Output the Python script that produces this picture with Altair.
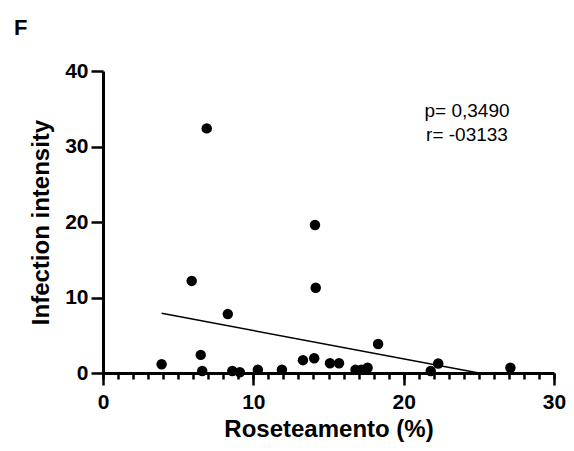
import altair as alt
import pandas as pd

# Scatter data
roset = [3.9, 5.9, 6.5, 6.6, 6.9, 8.3, 8.6, 9.1, 10.3, 11.9, 13.3, 14.05, 14.1, 14.15,
         15.1, 15.7, 16.8, 17.2, 17.6, 18.3, 21.8, 22.3, 27.1]
intens = [1.15, 12.2, 2.4, 0.26, 32.4, 7.8, 0.26, 0.09, 0.44, 0.44, 1.7, 1.95, 19.6, 11.3,
          1.3, 1.3, 0.44, 0.44, 0.7, 3.85, 0.26, 1.25, 0.7]

# Regression line end points (clipped at y = 0)
fit_x = [3.9, 25.0]
fit_y = [7.9, 0.0]

x_major = [0, 10, 20, 30]
x_minor = list(range(0, 31))
y_major = [0, 10, 20, 30, 40]

stats_p = "p= 0,3490"
stats_r = "r= -03133"
panel_label = "F"

pts = pd.DataFrame({"x": roset, "y": intens})
fit = pd.DataFrame({"x": fit_x, "y": fit_y})

FONT = "Liberation Sans"

x_scale = alt.Scale(domain=[0, 30], nice=False, zero=False)
y_scale = alt.Scale(domain=[0, 40], nice=False, zero=False)

x_axis = alt.Axis(
    orient="bottom", values=x_major, ticks=True,
    tickSize=12, tickWidth=2.5, domainWidth=3, tickColor="black", domainColor="black",
    tickOpacity=1,
    labelFont=FONT, labelFontSize=21, labelFontWeight="bold", labelColor="black",
    labelPadding=6, labelFlush=False, labelOverlap=False, grid=False,
    title="Roseteamento (%)", titleFont=FONT, titleFontSize=24, titleFontWeight="bold",
    titleColor="black", titlePadding=5,
)
x_axis_minor = alt.Axis(
    orient="bottom", values=x_minor, ticks=True,
    tickSize=6, tickWidth=2.5, tickColor="black", tickOpacity=1,
    domain=False, labels=False, grid=False, title=None,
)
y_axis = alt.Axis(
    values=y_major,
    tickSize=12, tickWidth=2.5, domainWidth=3, tickColor="black", domainColor="black",
    labelFont=FONT, labelFontSize=21, labelFontWeight="bold", labelColor="black",
    labelPadding=3, labelFlush=False, labelOverlap=False, grid=False,
    title="Infection intensity", titleFont=FONT, titleFontSize=24, titleFontWeight="bold",
    titleColor="black", titlePadding=11,
)

points = alt.Chart(pts).mark_circle(size=110, color="black", opacity=1, clip=False).encode(
    x=alt.X("x:Q", scale=x_scale, axis=x_axis),
    y=alt.Y("y:Q", scale=y_scale, axis=y_axis),
)

line = alt.Chart(fit).mark_line(color="black", strokeWidth=1.5).encode(
    x=alt.X("x:Q", scale=x_scale, axis=x_axis_minor),
    y=alt.Y("y:Q", scale=y_scale, axis=y_axis),
)

text_p = alt.Chart(pd.DataFrame({"t": [stats_p]})).mark_text(
    font=FONT, fontSize=19, color="black", align="center", baseline="middle"
).encode(x=alt.value(364), y=alt.value(40), text="t:N")

text_r = alt.Chart(pd.DataFrame({"t": [stats_r]})).mark_text(
    font=FONT, fontSize=19, color="black", align="center", baseline="middle"
).encode(x=alt.value(364), y=alt.value(64), text="t:N")

panel = alt.Chart(pd.DataFrame({"t": [panel_label]})).mark_text(
    font=FONT, fontSize=22, fontWeight="bold", color="black", align="left", baseline="alphabetic"
).encode(x=alt.value(-89), y=alt.value(-36), text="t:N")

chart = alt.layer(line, points, text_p, text_r, panel).resolve_axis(
    x="independent"
).properties(
    width=451, height=302,
    autosize=alt.AutoSizeParams(type="none"),
    padding={"left": 95, "top": 63, "right": 12, "bottom": 70},
).configure_view(stroke=None).configure_axis(ticks=True)

chart.save("out.html", embed_options={"renderer": "svg", "actions": False})
